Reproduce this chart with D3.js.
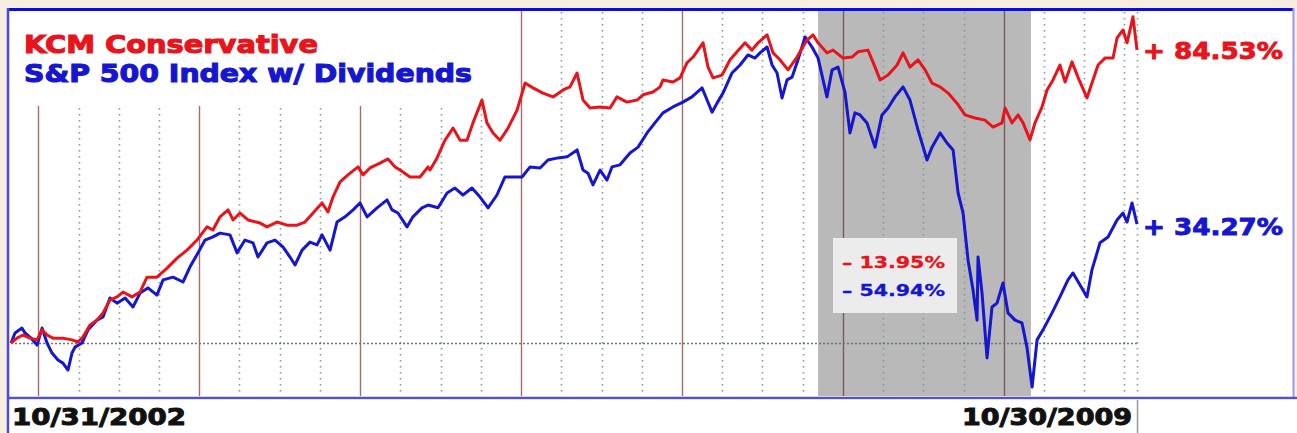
<!DOCTYPE html>
<html lang="en">
  <head>
    <meta charset="UTF-8" />
    <script src="https://d3js.org/d3.v7.min.js"></script>
    <title>KCM Conservative vs S&amp;P 500</title>
    <style>
      body { margin: 0; background: #f6efdf; }
      svg { display: block; }
    </style>
  </head>
  <body>
    <div id="chart"></div>
    <script>
      // period covered, in decimal years (10/31/2002 .. 10/30/2009)
      var startYear = 2002.83,
        endYear = 2009.828;

      // shaded drawdown window
      var shadeFrom = 2007.846,
        shadeTo = 2009.169;

      var kcmFinal = 84.53,
        spxFinal = 34.27,
        kcmDrop = -13.95,
        spxDrop = -54.94;

      // cumulative return (%): [decimal year, pct]
      var kcmSeries = [
        [2002.83, 0], [2002.867, 1.4], [2002.905, 2.3], [2002.948, 1.4], [2002.992, 0.9],
        [2003.023, 3.8], [2003.054, 2.3], [2003.091, 1.4], [2003.153, 1.4], [2003.209, 0.9],
        [2003.246, 0.3], [2003.277, 1.7], [2003.321, 5.2], [2003.364, 6.6], [2003.402, 8.7],
        [2003.445, 12.4], [2003.489, 13.3], [2003.526, 14.7], [2003.582, 13.3], [2003.632, 14.7],
        [2003.675, 19.0], [2003.737, 19.0], [2003.8, 21.6], [2003.862, 24.5], [2003.924, 26.8],
        [2003.986, 29.7], [2004.048, 33.5], [2004.085, 32.6], [2004.129, 36.4], [2004.179, 38.4],
        [2004.21, 35.5], [2004.253, 37.5], [2004.303, 35.5], [2004.378, 34.6], [2004.421, 33.5],
        [2004.483, 34.9], [2004.545, 34.0], [2004.608, 34.0], [2004.657, 34.9], [2004.707, 37.5],
        [2004.763, 40.4], [2004.8, 37.8], [2004.831, 42.1], [2004.875, 46.5], [2004.937, 49.0],
        [2004.987, 50.8], [2005.018, 48.5], [2005.061, 50.5], [2005.123, 51.9], [2005.173, 53.1],
        [2005.217, 50.8], [2005.248, 49.9], [2005.31, 47.9], [2005.372, 47.9], [2005.422, 50.8],
        [2005.434, 49.9], [2005.478, 53.4], [2005.527, 58.5], [2005.577, 62.0], [2005.621, 58.5],
        [2005.664, 58.5], [2005.701, 63.5], [2005.757, 70.1], [2005.788, 63.5], [2005.826, 60.6],
        [2005.869, 58.5], [2005.919, 62.0], [2005.975, 67.2], [2006.025, 75.0], [2006.074, 73.6],
        [2006.136, 72.1], [2006.199, 71.0], [2006.261, 73.0], [2006.304, 73.9], [2006.348, 77.9],
        [2006.385, 70.1], [2006.429, 67.8], [2006.491, 68.1], [2006.553, 67.8], [2006.596, 71.0],
        [2006.658, 69.5], [2006.721, 70.1], [2006.758, 71.6], [2006.82, 72.4], [2006.864, 73.9],
        [2006.882, 75.9], [2006.944, 75.3], [2006.988, 76.5], [2007.031, 80.8], [2007.069, 82.5],
        [2007.131, 86.6], [2007.162, 79.6], [2007.193, 76.5], [2007.249, 77.3], [2007.299, 81.7],
        [2007.342, 84.0], [2007.392, 86.6], [2007.435, 84.5], [2007.473, 86.6], [2007.529, 88.9],
        [2007.566, 83.7], [2007.609, 81.7], [2007.659, 78.8], [2007.715, 82.5], [2007.777, 87.4],
        [2007.814, 88.9], [2007.846, 86.6], [2007.901, 83.7], [2007.939, 84.5], [2008.001, 82.2],
        [2008.057, 82.5], [2008.094, 84.0], [2008.156, 84.5], [2008.2, 79.6], [2008.231, 75.9],
        [2008.281, 77.3], [2008.337, 80.2], [2008.374, 83.7], [2008.417, 79.6], [2008.467, 81.7],
        [2008.511, 78.8], [2008.554, 75.0], [2008.604, 73.9], [2008.654, 72.1], [2008.709, 69.2],
        [2008.759, 65.8], [2008.821, 64.9], [2008.883, 64.3], [2008.933, 62.3], [2008.989, 63.5],
        [2009.008, 67.8], [2009.051, 63.5], [2009.089, 65.8], [2009.12, 63.5], [2009.163, 58.6],
        [2009.194, 63.5], [2009.238, 68.1], [2009.269, 73.0], [2009.306, 75.9], [2009.349, 80.2],
        [2009.381, 75.3], [2009.424, 81.1], [2009.461, 76.7], [2009.517, 70.7], [2009.548, 75.0],
        [2009.586, 80.2], [2009.629, 82.2], [2009.679, 82.2], [2009.704, 88.0], [2009.741, 90.3],
        [2009.766, 86.6], [2009.803, 94.1], [2009.828, 84.53]
      ];

      var spxSeries = [
        [2002.83, 0], [2002.855, 2.9], [2002.898, 4.3], [2002.917, 2.9], [2002.948, 1.7],
        [2002.992, -0.6], [2003.023, 4.3], [2003.054, 0], [2003.085, -2.9], [2003.122, -4.9],
        [2003.153, -5.8], [2003.184, -7.8], [2003.209, -2.9], [2003.228, -1.2], [2003.271, 0],
        [2003.309, 3.8], [2003.364, 6.6], [2003.402, 7.5], [2003.445, 13.0], [2003.489, 11.5],
        [2003.539, 13.0], [2003.588, 10.4], [2003.632, 14.4], [2003.681, 15.9], [2003.737, 13.8],
        [2003.775, 18.2], [2003.837, 19.0], [2003.899, 17.6], [2003.942, 21.9], [2003.992, 26.0],
        [2004.036, 29.7], [2004.085, 30.6], [2004.129, 31.7], [2004.191, 31.2], [2004.235, 26.0],
        [2004.284, 29.7], [2004.334, 28.9], [2004.365, 24.8], [2004.421, 28.9], [2004.471, 29.7],
        [2004.52, 27.7], [2004.564, 24.8], [2004.595, 22.5], [2004.639, 26.8], [2004.688, 29.1],
        [2004.732, 28.3], [2004.763, 31.2], [2004.813, 26.8], [2004.856, 34.9], [2004.906, 36.4],
        [2004.956, 38.4], [2004.999, 40.4], [2005.043, 36.4], [2005.105, 39.0], [2005.167, 41.3],
        [2005.198, 38.4], [2005.235, 37.5], [2005.291, 33.5], [2005.328, 36.4], [2005.384, 39.0],
        [2005.422, 39.8], [2005.484, 39.0], [2005.54, 43.3], [2005.589, 44.7], [2005.639, 42.7],
        [2005.695, 44.7], [2005.745, 42.1], [2005.795, 39.0], [2005.85, 42.7], [2005.9, 47.9],
        [2005.95, 47.9], [2006.006, 47.9], [2006.056, 50.8], [2006.118, 50.5], [2006.167, 52.8],
        [2006.23, 53.4], [2006.286, 53.7], [2006.348, 55.7], [2006.385, 49.9], [2006.416, 49.0],
        [2006.447, 45.6], [2006.491, 49.9], [2006.534, 47.0], [2006.565, 50.8], [2006.615, 51.4],
        [2006.677, 54.8], [2006.727, 56.5], [2006.783, 60.6], [2006.832, 63.5], [2006.882, 66.4],
        [2006.944, 68.1], [2007.006, 69.5], [2007.062, 71.0], [2007.125, 73.6], [2007.156, 70.1],
        [2007.187, 66.6], [2007.218, 69.2], [2007.255, 72.1], [2007.311, 77.9], [2007.361, 80.2],
        [2007.41, 83.1], [2007.454, 82.2], [2007.485, 83.7], [2007.529, 85.4], [2007.56, 80.2],
        [2007.591, 77.9], [2007.622, 70.7], [2007.653, 75.9], [2007.684, 76.7], [2007.721, 81.7],
        [2007.765, 88.3], [2007.808, 85.4], [2007.846, 82.2], [2007.901, 71.0], [2007.933, 78.8],
        [2007.97, 79.6], [2008.013, 72.4], [2008.044, 60.6], [2008.075, 66.4], [2008.107, 65.8],
        [2008.15, 63.5], [2008.2, 56.5], [2008.243, 65.8], [2008.281, 67.8], [2008.324, 71.0],
        [2008.374, 73.9], [2008.417, 70.1], [2008.467, 61.5], [2008.523, 52.8], [2008.554, 56.5],
        [2008.604, 60.6], [2008.647, 57.7], [2008.685, 55.7], [2008.716, 43.3], [2008.747, 37.5],
        [2008.778, 23.9], [2008.809, 15.3], [2008.834, 6.6], [2008.84, 24.8], [2008.865, 14.4],
        [2008.896, -4.3], [2008.927, 10.4], [2008.958, 11.5], [2008.995, 17.3], [2009.026, 8.7],
        [2009.07, 6.6], [2009.113, 5.8], [2009.144, -1.2], [2009.176, -12.7], [2009.207, 0.9],
        [2009.244, 3.8], [2009.3, 8.7], [2009.349, 13.3], [2009.399, 18.2], [2009.43, 20.2],
        [2009.474, 16.7], [2009.517, 13.3], [2009.548, 21.1], [2009.598, 28.9], [2009.648, 30.6],
        [2009.704, 35.5], [2009.741, 37.5], [2009.766, 34.9], [2009.797, 40.4], [2009.828, 34.27]
      ];

      var startLabel = "10/31/2002",
        endLabel = "10/30/2009";

      var red = "#e8141c",
        blue = "#1616d0";

      var width = 1297,
        height = 433;

      var svg = d3
        .select("#chart")
        .append("svg")
        .attr("width", width)
        .attr("height", height);

      var x = d3.scaleLinear().domain([startYear, endYear]).range([11, 1137]);
      var y = d3.scaleLinear().domain([0, kcmFinal]).range([343, 50]);

      var plotTop = 10,
        plotBottom = 396;

      // plot background
      svg.append("rect")
        .attr("x", 7).attr("y", 8)
        .attr("width", 1287).attr("height", 390)
        .attr("fill", "#ffffff");

      // shaded window
      svg.append("rect")
        .attr("x", x(shadeFrom)).attr("y", plotTop)
        .attr("width", x(shadeTo) - x(shadeFrom))
        .attr("height", plotBottom - plotTop)
        .attr("fill", "#b9b9b9");

      // quarter grid (dotted)
      var quarters = [];
      d3.range(2003, 2010).forEach(function (yr) {
        [0.25, 0.5, 0.75].forEach(function (q) {
          if (yr + q < endYear) quarters.push(yr + q);
        });
      });
      quarters.push(endYear);

      svg.append("g")
        .selectAll("line")
        .data(quarters)
        .join("line")
        .attr("x1", function (d) { return Math.round(x(d)) + 0.5; })
        .attr("x2", function (d) { return Math.round(x(d)) + 0.5; })
        .attr("y1", plotTop + 2)
        .attr("y2", plotBottom)
        .attr("stroke", "#7f9a9a")
        .attr("stroke-width", 1.6)
        .attr("stroke-dasharray", "1.6,4.4");

      // year lines (solid)
      var years = d3.range(2003, 2010);
      svg.append("g")
        .selectAll("line")
        .data(years)
        .join("line")
        .attr("x1", function (d) { return Math.round(x(d)) + 0.5; })
        .attr("x2", function (d) { return Math.round(x(d)) + 0.5; })
        .attr("y1", plotTop)
        .attr("y2", plotBottom)
        .attr("stroke", function (d) {
          return d >= shadeFrom && d <= shadeTo ? "#7a5a5a" : "#a86a6a";
        })
        .attr("stroke-width", 1.4);

      // zero line
      svg.append("line")
        .attr("x1", x(startYear)).attr("x2", x(endYear))
        .attr("y1", Math.round(y(0)) + 0.5).attr("y2", Math.round(y(0)) + 0.5)
        .attr("stroke", "#6a7676")
        .attr("stroke-width", 1.4)
        .attr("stroke-dasharray", "2,2");

      // legend backdrop hides the grid under the titles
      svg.append("rect")
        .attr("x", 9).attr("y", plotTop + 1)
        .attr("width", 480).attr("height", 95)
        .attr("fill", "#ffffff");

      // drawdown box
      var box = svg.append("g");
      box.append("rect")
        .attr("x", 833).attr("y", 238)
        .attr("width", 124).attr("height", 75)
        .attr("fill", "#ececec");
      addText(box, 842, 268, "\u2013 " + Math.abs(kcmDrop).toFixed(2) + "%", red, 16, 103, 0.3);
      addText(box, 842, 296, "\u2013 " + Math.abs(spxDrop).toFixed(2) + "%", blue, 16, 103, 0.3);

      // series
      var line = d3.line()
        .x(function (d) { return x(d[0]); })
        .y(function (d) { return y(d[1]); });

      svg.append("path")
        .datum(spxSeries)
        .attr("d", line)
        .attr("fill", "none")
        .attr("stroke", blue)
        .attr("stroke-width", 3)
        .attr("stroke-linejoin", "round");

      svg.append("path")
        .datum(kcmSeries)
        .attr("d", line)
        .attr("fill", "none")
        .attr("stroke", red)
        .attr("stroke-width", 3)
        .attr("stroke-linejoin", "round");

      // titles
      addText(svg, 24, 53, "KCM Conservative", red, 25, 294, 1.1);
      addText(svg, 24, 82, "S&P 500 Index w/ Dividends", blue, 25, 448, 1.1);

      // end labels
      addText(svg, 1143, 59, "+ " + kcmFinal.toFixed(2) + "%", red, 23, 140, 0.9);
      addText(svg, 1143, 235, "+ " + spxFinal.toFixed(2) + "%", blue, 23, 140, 0.9);

      // frame
      svg.append("line").attr("x1", 7).attr("x2", 1294).attr("y1", 9.5).attr("y2", 9.5)
        .attr("stroke", "#0a0af0").attr("stroke-width", 3);
      svg.append("line").attr("x1", 8).attr("x2", 8).attr("y1", 8).attr("y2", 433)
        .attr("stroke", "#4848e0").attr("stroke-width", 2.5);
      svg.append("line").attr("x1", 1293.5).attr("x2", 1293.5).attr("y1", 8).attr("y2", 398)
        .attr("stroke", "#9a9af0").attr("stroke-width", 2);
      svg.append("line").attr("x1", 7).attr("x2", 1297).attr("y1", 398).attr("y2", 398)
        .attr("stroke", "#5050dc").attr("stroke-width", 2.5);

      // date strip
      svg.append("rect")
        .attr("x", 9.5).attr("y", 399.5)
        .attr("width", width - 9.5).attr("height", height - 399.5)
        .attr("fill", "#ffffff");
      svg.append("line")
        .attr("x1", Math.round(x(endYear)) + 0.5).attr("x2", Math.round(x(endYear)) + 0.5)
        .attr("y1", 400).attr("y2", height)
        .attr("stroke", "#9a9a9a").attr("stroke-width", 1.5);

      addText(svg, 12, 425, startLabel, "#111111", 23, 174, 1);
      addText(svg, 962, 425, endLabel, "#111111", 23, 170, 1);

      function addText(parent, tx, ty, str, color, size, len, weight) {
        var t = parent.append("text")
          .attr("x", tx).attr("y", ty)
          .attr("fill", color)
          .attr("font-family", "'DejaVu Sans', Verdana, sans-serif")
          .attr("font-weight", "bold")
          .attr("font-size", size)
          .attr("textLength", len)
          .attr("lengthAdjust", "spacingAndGlyphs")
          .text(str);
        if (weight) {
          t.attr("stroke", color).attr("stroke-width", weight);
        }
        return t;
      }
    </script>
  </body>
</html>
